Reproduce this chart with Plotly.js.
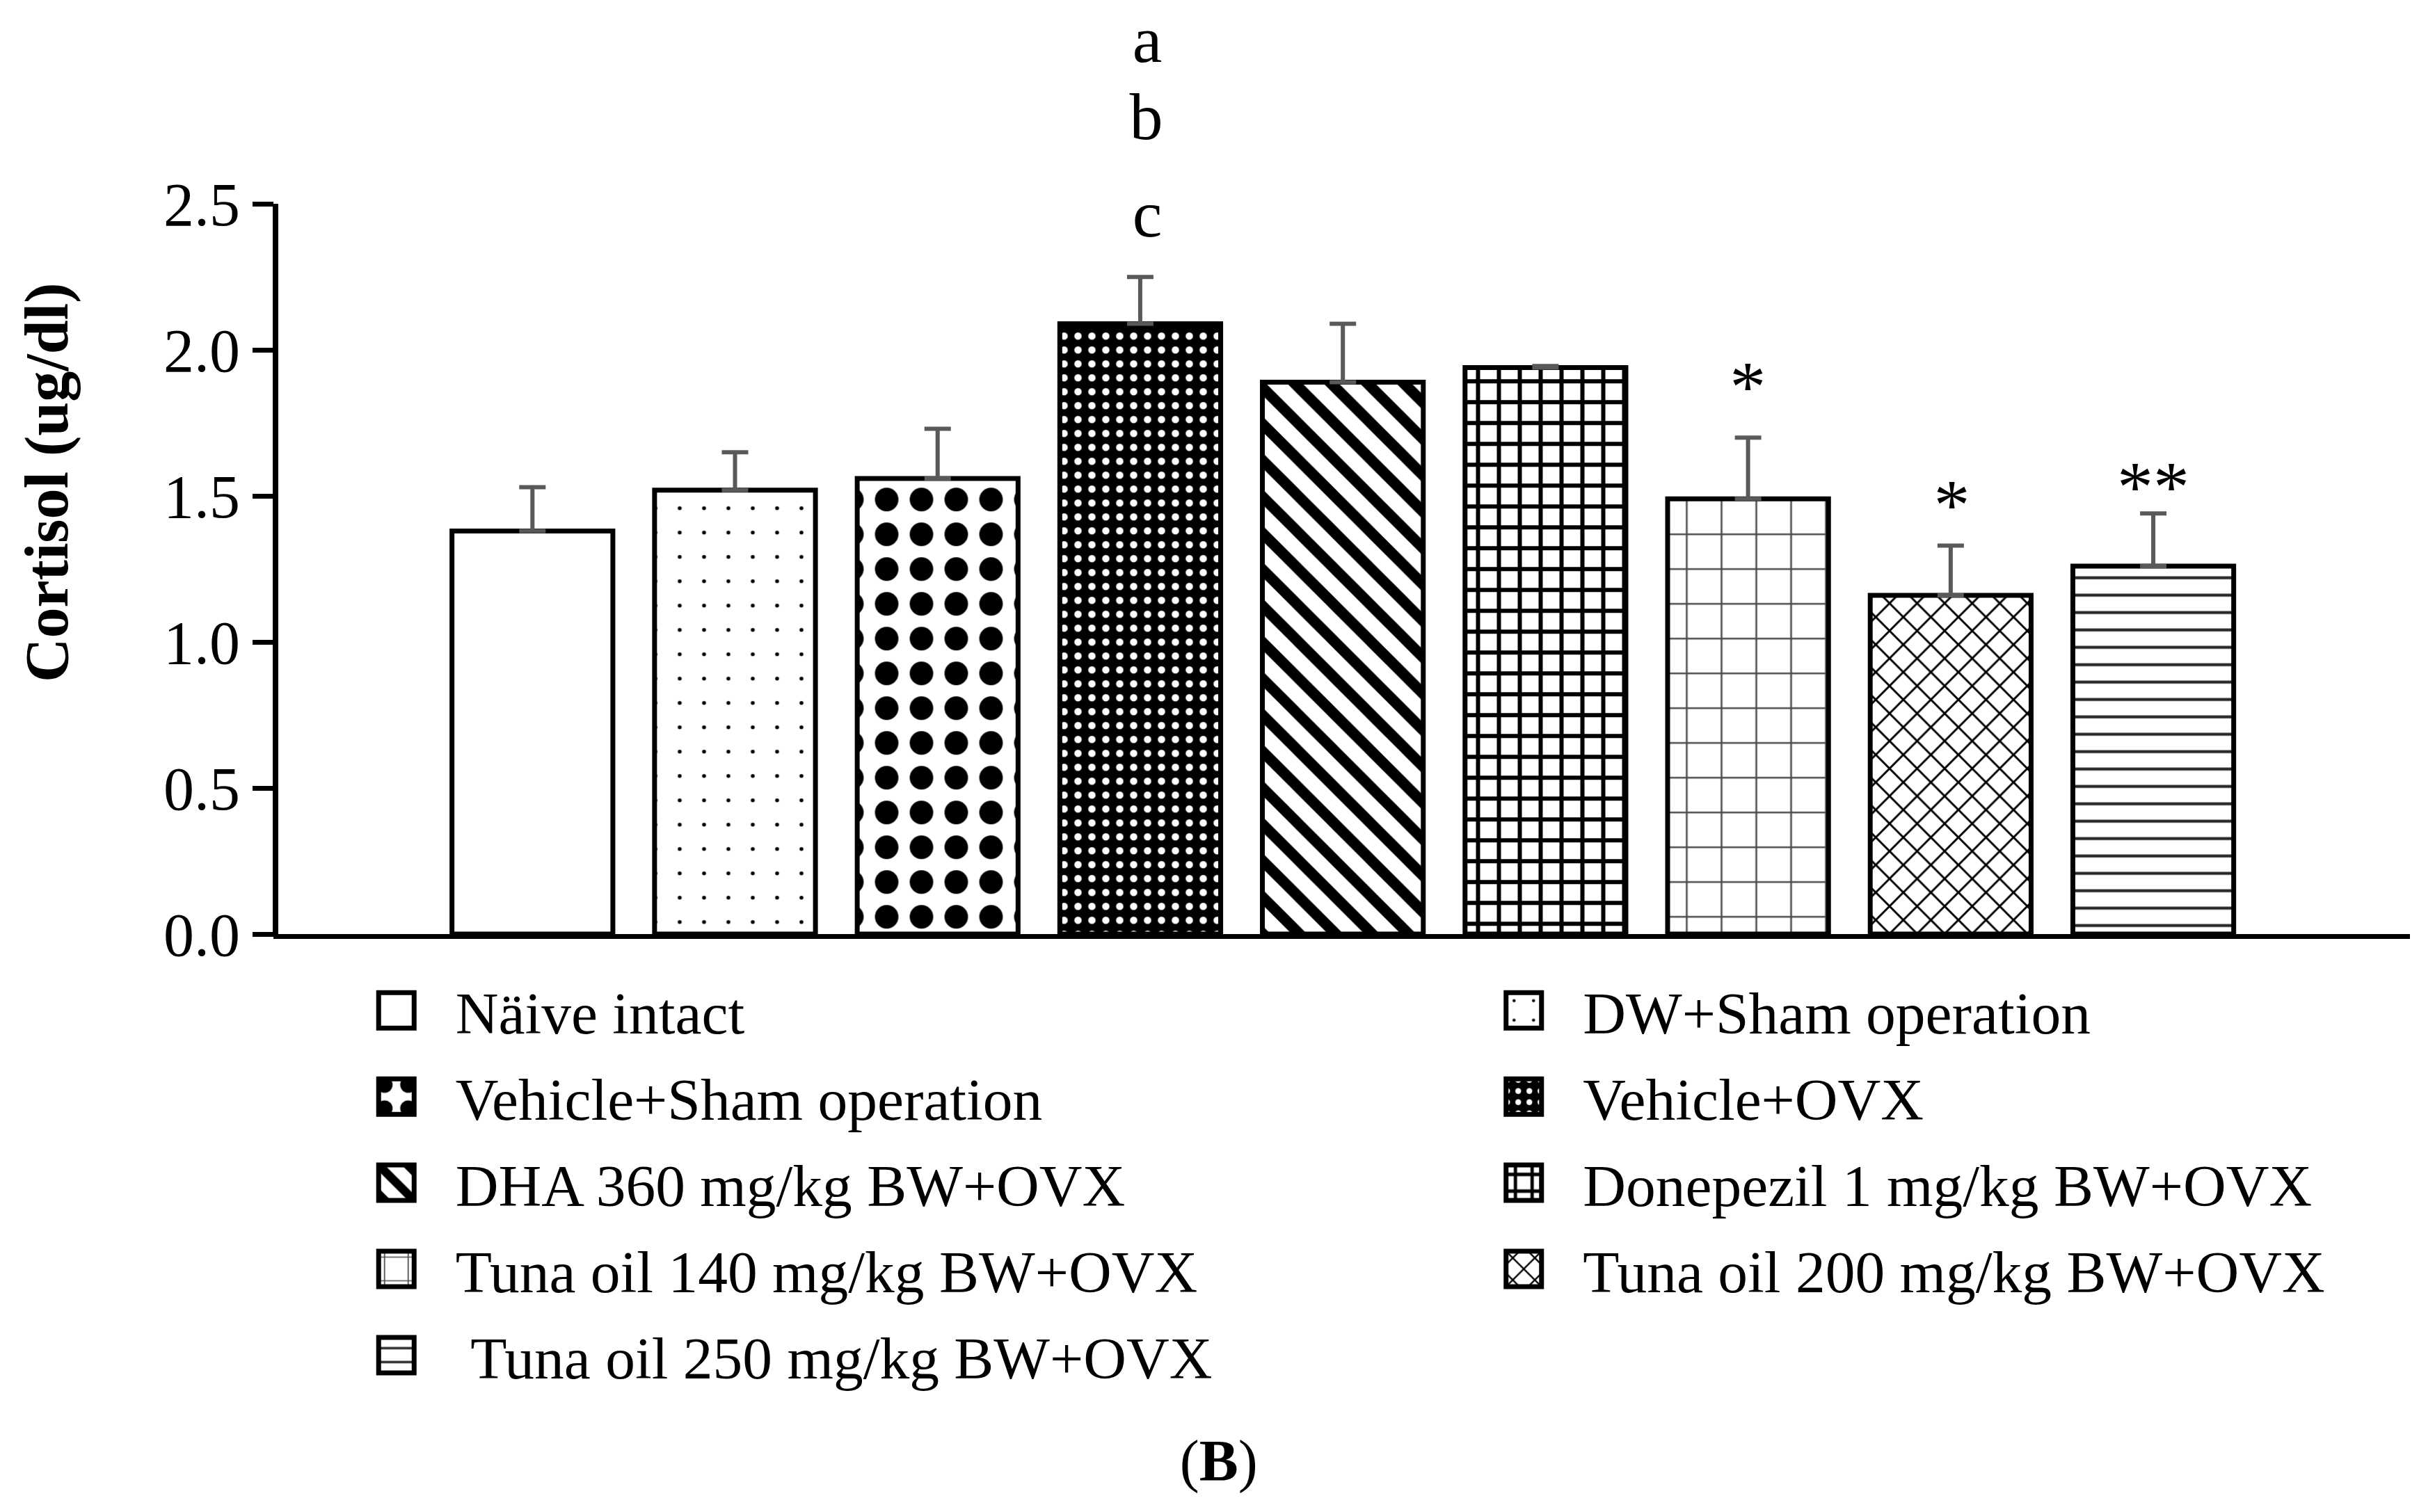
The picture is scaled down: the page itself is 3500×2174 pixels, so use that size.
<!DOCTYPE html>
<html>
<head>
<meta charset="utf-8">
<script src="https://cdn.plot.ly/plotly-3.0.1.min.js"></script>
<style>
  html, body { margin: 0; padding: 0; background: #ffffff; width: 3500px; height: 2174px; }
  #chart { transform-origin: 0 0; }
</style>
</head>
<body>
<div id="chart"></div>
<script>
// ---------------- data ----------------
const groups = [
  'Näive intact',
  'DW+Sham operation',
  'Vehicle+Sham operation',
  'Vehicle+OVX',
  'DHA 360 mg/kg BW+OVX',
  'Donepezil 1 mg/kg BW+OVX',
  'Tuna oil 140 mg/kg BW+OVX',
  'Tuna oil 200 mg/kg BW+OVX',
  ' Tuna oil 250 mg/kg BW+OVX'
];
const cortisol = [1.38, 1.52, 1.56, 2.09, 1.89, 1.94, 1.49, 1.16, 1.26];
const sem      = [0.15, 0.13, 0.17, 0.16, 0.20, 0.005, 0.21, 0.17, 0.18];
const yTicks   = [0, 0.5, 1.0, 1.5, 2.0, 2.5];
const letterMarks = ['a', 'b', 'c'];          // above Vehicle+OVX
const starMarks   = ['', '', '', '', '', '', '*', '*', '**'];
const yTitle = 'Cortisol (ug/dl)';
const panelLabel = '(<b>B</b>)';

// ---------------- scale (reference pixels -> layout px) ----------------
const S = 4.25;
const W = 3500 / S, H = 2174 / S;
const px = v => v / S;

// pattern styles (sizes in reference pixels)
const styles = [
  {shape: '',   bg: '#ffffff', fg: '#000000', size: 20, sol: 0.2,  op: 1},
  {shape: '.',  bg: '#ffffff', fg: '#000000', size: 35, sol: 0.02, op: 1},
  {shape: '.',  bg: '#ffffff', fg: '#000000', size: 50, sol: 0.36, op: 1},
  {shape: '.',  bg: '#000000', fg: '#ffffff', size: 20, sol: 0.22, op: 1},
  {shape: '\\', bg: '#ffffff', fg: '#000000', size: 37, sol: 0.42, op: 1},
  {shape: '+',  bg: '#ffffff', fg: '#000000', size: 30, sol: 0.36, op: 1},
  {shape: '+',  bg: '#ffffff', fg: '#000000', size: 50, sol: 0.10, op: 0.7},
  {shape: 'x',  bg: '#ffffff', fg: '#000000', size: 28, sol: 0.20, op: 1},
  {shape: '-',  bg: '#ffffff', fg: '#000000', size: 25, sol: 0.17, op: 0.85}
];

const legendOf = [ 'legend', 'legend2', 'legend', 'legend2', 'legend', 'legend2', 'legend', 'legend2', 'legend' ];

const traces = groups.map((g, i) => {
  const st = styles[i];
  const marker = {
    color: '#ffffff',
    line: {color: '#000000', width: px(7)}
  };
  if (st.shape) {
    marker.pattern = {
      shape: st.shape,
      bgcolor: st.bg,
      fgcolor: st.fg,
      fgopacity: st.op,
      size: px(st.size),
      solidity: st.sol,
      fillmode: 'replace'
    };
  }
  return {
    type: 'bar',
    x: [g],
    y: [cortisol[i]],
    name: g.replace(/^ /, '\u00a0'),
    legend: legendOf[i],
    marker: marker,
    error_y: {
      type: 'data',
      symmetric: false,
      array: [sem[i]],
      arrayminus: [0],
      color: '#595959',
      thickness: px(6),
      width: px(19)
    },
    hoverinfo: 'skip'
  };
});

// ---------------- annotations ----------------
const FONT = 'Liberation Serif';
const annotations = [];
// paper-y positions (plot area 0..1 spans 0..2.5)
const letterY = [1.225, 1.119, 0.987];
letterMarks.forEach((t, k) => {
  annotations.push({
    x: groups[3], y: letterY[k], xref: 'x', yref: 'paper',
    text: t, showarrow: false, xanchor: 'center', yanchor: 'middle',
    xshift: px(10),
    font: {family: FONT, size: px(96), color: '#000000'}
  });
});
const starY = [0, 0, 0, 0, 0, 0, 0.750, 0.588, 0.613];
starMarks.forEach((t, i) => {
  if (!t) return;
  annotations.push({
    x: groups[i], y: starY[i], xref: 'x', yref: 'paper',
    text: t, showarrow: false, xanchor: 'center', yanchor: 'middle',
    font: {family: FONT, size: px(104), color: '#000000'}
  });
});
// y-axis title (placed as annotation to match its off-centre position)
annotations.push({
  x: -0.1071, y: 0.6195, xref: 'paper', yref: 'paper',
  text: '<b>' + yTitle + '</b>', textangle: -90, showarrow: false,
  xanchor: 'center', yanchor: 'middle',
  font: {family: FONT, size: px(88), color: '#000000'}
});
// panel label
annotations.push({
  x: 0.441, y: -0.722, xref: 'paper', yref: 'paper',
  text: panelLabel, showarrow: false, xanchor: 'center', yanchor: 'middle',
  font: {family: FONT, size: px(84), color: '#000000'}
});

const legendFont = {family: FONT, size: px(85.5), color: '#000000'};

const layout = {
  width: W, height: H,
  paper_bgcolor: '#ffffff', plot_bgcolor: '#ffffff',
  font: {family: FONT, color: '#000000'},
  margin: {l: px(400), r: px(38), t: px(293), b: px(835), pad: 0, autoexpand: false},
  barmode: 'overlay',
  bargap: 0.206,
  showlegend: true,
  xaxis: {
    type: 'category',
    categoryorder: 'array', categoryarray: groups,
    range: [-1.256, 9.266],
    showticklabels: false, ticks: '',
    showline: true, linecolor: '#000000', linewidth: px(7),
    showgrid: false, zeroline: false, fixedrange: true
  },
  yaxis: {
    range: [0, 2.5],
    tickmode: 'array', tickvals: yTicks,
    ticktext: yTicks.map(v => v.toFixed(1)),
    ticks: 'outside', ticklen: px(30), tickwidth: px(7), tickcolor: '#000000',
    ticklabelstandoff: px(45),
    tickfont: {family: FONT, size: px(88), color: '#000000'},
    showline: true, linecolor: '#000000', linewidth: px(7),
    showgrid: false, zeroline: false, fixedrange: true
  },
  legend: {
    xref: 'container', yref: 'container',
    x: 0.1385, y: 0.370, xanchor: 'left', yanchor: 'top',
    orientation: 'v', bgcolor: 'rgba(0,0,0,0)', borderwidth: 0,
    font: legendFont, traceorder: 'normal'
  },
  legend2: {
    xref: 'container', yref: 'container',
    x: 0.6015, y: 0.370, xanchor: 'left', yanchor: 'top',
    orientation: 'v', bgcolor: 'rgba(0,0,0,0)', borderwidth: 0,
    font: legendFont, traceorder: 'normal'
  },
  annotations: annotations
};

const el = document.getElementById('chart');
el.style.width = W + 'px';
el.style.height = H + 'px';
el.style.transform = 'scale(' + S + ')';
Plotly.newPlot(el, traces, layout, {staticPlot: true, displayModeBar: false, responsive: false});
</script>
</body>
</html>
